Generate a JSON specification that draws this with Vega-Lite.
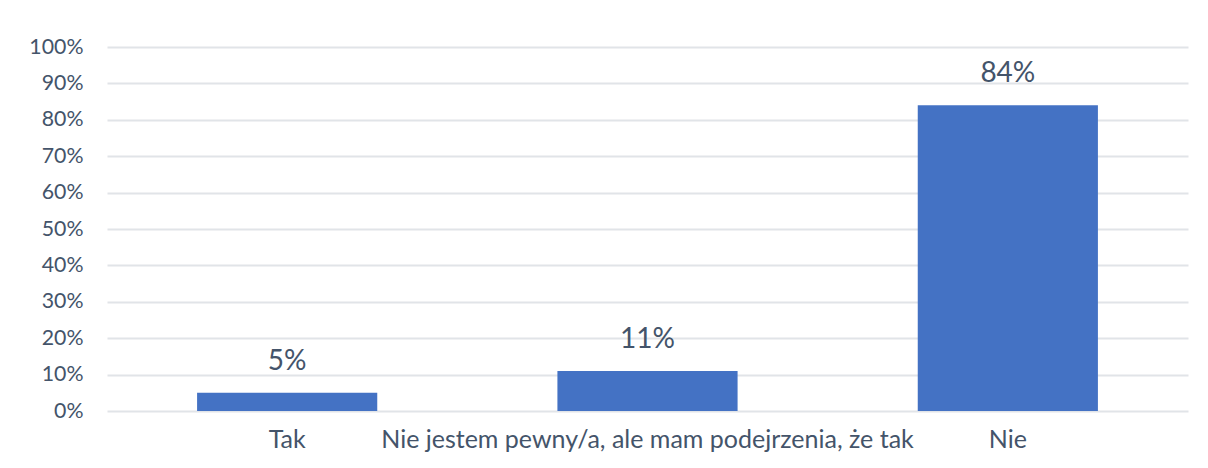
{
  "$schema": "https://vega.github.io/schema/vega-lite/v6.json",
  "autosize": {"type": "none"},
  "padding": {"left": 107, "top": 47, "right": 20, "bottom": 57},
  "width": 1081,
  "height": 364,
  "background": "white",
  "config": {"view": {"stroke": null}, "font": "Lato"},
  "data": {"values": [
    {"answer": "Tak", "value": 0.05},
    {"answer": "Nie jestem pewny/a, ale mam podejrzenia, że tak", "value": 0.11},
    {"answer": "Nie", "value": 0.84}
  ]},
  "encoding": {
    "x": {"field": "answer", "type": "nominal", "sort": null,
      "scale": {"paddingInner": 0.5, "paddingOuter": 0.25},
      "axis": {"title": null, "labelAngle": 0, "domain": false, "ticks": false, "labelLimit": 0,
        "labelFontSize": 25, "labelColor": "#44546A", "labelPadding": 16, "labelFont": "Lato"}},
    "y": {"field": "value", "type": "quantitative",
      "scale": {"domain": [0, 1], "nice": false},
      "axis": {"title": null, "format": ".0%", "values": [0,0.1,0.2,0.3,0.4,0.5,0.6,0.7,0.8,0.9,1],
        "domain": false, "ticks": false, "labelFontSize": 21.3, "labelColor": "#44546A",
        "labelPadding": 24, "gridColor": "#E1E4E8", "gridWidth": 2, "labelFont": "Lato"}}
  },
  "layer": [
    {"mark": {"type": "bar", "color": "#4472C4"}},
    {"mark": {"type": "text", "dy": -31, "fontSize": 28, "color": "#44546A", "font": "Lato"},
      "encoding": {"text": {"field": "value", "type": "quantitative", "format": ".0%"}}}
  ]
}
